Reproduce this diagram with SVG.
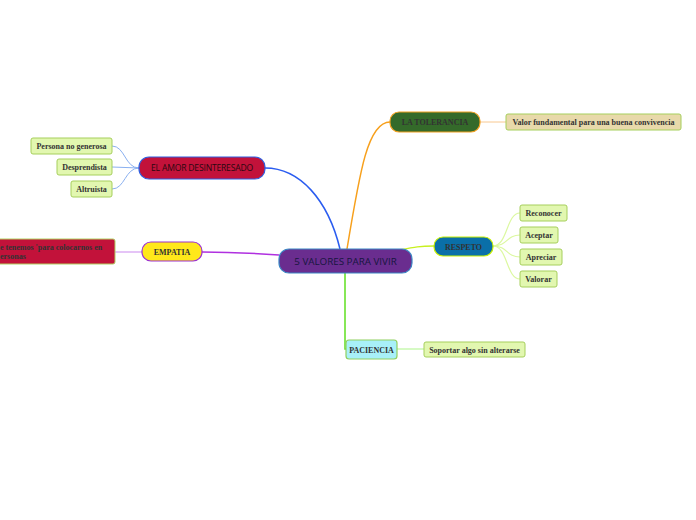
<svg xmlns="http://www.w3.org/2000/svg" width="696" height="520" viewBox="0 0 696 520">
<style>
.ser{font-family:"Liberation Serif","Times New Roman",serif;font-weight:bold;font-size:8px;fill:#333;}
.sans{font-family:"Open Sans","Liberation Sans",sans-serif;}
.leaf{fill:#e2f7b0;stroke:#a6cf5c;stroke-width:1;}
.c{fill:none;}
</style>
<rect width="696" height="520" fill="#ffffff"/>
<g id="connectors">
<path class="c" d="M340 249 C328 200 300 168 265 168" stroke="#2a5cf0" stroke-width="1.5"/>
<path class="c" d="M347 249 C360 170 368 122 390 122" stroke="#f7a01c" stroke-width="1.5"/>
<path class="c" d="M400 250 C415 247 420 246 434 246" stroke="#c8f020" stroke-width="1.5"/>
<path class="c" d="M279 255 C250 253 230 252 202 252" stroke="#b030e0" stroke-width="1.5"/>
<path class="c" d="M345 273 L345 349 L346 349" stroke="#60e020" stroke-width="1.5"/>
<g stroke="#8ab0f0" stroke-width="1">
<path class="c" d="M139 168 C125 168 125 146 112 146"/>
<path class="c" d="M139 168 L112 167"/>
<path class="c" d="M139 168 C125 168 125 189 112 189"/>
</g>
<path class="c" d="M480 122 L506 122" stroke="#f8c890" stroke-width="1"/>
<g stroke="#dcf8a0" stroke-width="1.2">
<path class="c" d="M493 246 C508 246 506 213 520 213"/>
<path class="c" d="M493 246 C508 246 506 235 520 235"/>
<path class="c" d="M493 246 C508 246 506 257 520 257"/>
<path class="c" d="M493 246 C508 246 506 279 520 279"/>
</g>
<path class="c" d="M142 252 L115 252" stroke="#dcb0f4" stroke-width="1.5"/>
<path class="c" d="M397 349 L424 349" stroke="#c8f8b0" stroke-width="1.5"/>
</g>
<g id="central">
<rect x="279" y="249" width="133" height="24" rx="10" fill="#6a2d8f" stroke="#3b86c4" stroke-width="1.2"/>
<text x="345.5" y="265" text-anchor="middle" class="sans" font-size="9.8" fill="#161640">5 VALORES PARA VIVIR</text>
</g>
<g id="amor">
<rect x="139" y="157" width="126" height="22" rx="10" fill="#c2123a" stroke="#2f5fe0" stroke-width="1.2"/>
<text x="202" y="171" text-anchor="middle" class="sans" font-size="8.6" letter-spacing="-0.2" fill="#2a0810">EL AMOR DESINTERESADO</text>
</g>
<g id="amor-1"><rect class="leaf" x="31" y="138" width="81" height="16" rx="2"/><text class="ser" x="71.5" y="149" text-anchor="middle">Persona no generosa</text></g>
<g id="amor-2"><rect class="leaf" x="57" y="159" width="55" height="16" rx="2"/><text class="ser" x="84.5" y="170" text-anchor="middle">Desprendista</text></g>
<g id="amor-3"><rect class="leaf" x="71" y="181" width="41" height="16" rx="2"/><text class="ser" x="91.5" y="192" text-anchor="middle">Altruista</text></g>
<g id="tolerancia">
<rect x="390" y="112" width="90" height="20" rx="9" fill="#346a2a" stroke="#f0a020" stroke-width="1.2"/>
<text class="ser" x="435" y="125" text-anchor="middle" fill="#123a18">LA TOLERANCIA</text>
</g>
<g id="tolerancia-1"><rect x="506" y="114" width="175" height="16" rx="2" fill="#e8d9aa" stroke="#a6cf5c"/><text class="ser" x="593.5" y="125" text-anchor="middle">Valor  fundamental para una buena convivencia</text></g>
<g id="respeto">
<rect x="434" y="237" width="59" height="19" rx="9" fill="#0a6fa8" stroke="#c8f000" stroke-width="1.2"/>
<text class="ser" x="463.5" y="249.5" text-anchor="middle" fill="#0a2448">RESPETO</text>
</g>
<g id="respeto-1"><rect class="leaf" x="520" y="205" width="47" height="16" rx="2"/><text class="ser" x="543.5" y="216" text-anchor="middle">Reconocer</text></g>
<g id="respeto-2"><rect class="leaf" x="520" y="227" width="38" height="16" rx="2"/><text class="ser" x="539" y="238" text-anchor="middle">Aceptar</text></g>
<g id="respeto-3"><rect class="leaf" x="520" y="249" width="42" height="16" rx="2"/><text class="ser" x="541" y="260" text-anchor="middle">Apreciar</text></g>
<g id="respeto-4"><rect class="leaf" x="520" y="271" width="37" height="16" rx="2"/><text class="ser" x="538.5" y="282" text-anchor="middle">Valorar</text></g>
<g id="empatia">
<rect x="142" y="242" width="60" height="19" rx="9" fill="#ffe81a" stroke="#9b30d0" stroke-width="1.2"/>
<text class="ser" x="172" y="254.5" text-anchor="middle" fill="#142040">EMPATIA</text>
</g>
<g id="empatia-1">
<rect x="-40" y="239" width="155" height="25" rx="2" fill="#c2123a" stroke="#b0d060"/>
<text class="ser" x="0" y="249.5" fill="#4a1020">e tenemos 'para colocarnos en</text>
<text class="ser" x="0" y="259" fill="#4a1020">ersonas</text>
</g>
<g id="paciencia">
<rect x="346" y="340" width="51" height="19" rx="3" fill="#a8f0f8" stroke="#90d060" stroke-width="1.2"/>
<text class="ser" x="371.5" y="352.5" text-anchor="middle">PACIENCIA</text>
</g>
<g id="paciencia-1"><rect class="leaf" x="424" y="342" width="101" height="15" rx="2"/><text class="ser" x="474.5" y="352.5" text-anchor="middle">Soportar algo sin alterarse</text></g>
</svg>
